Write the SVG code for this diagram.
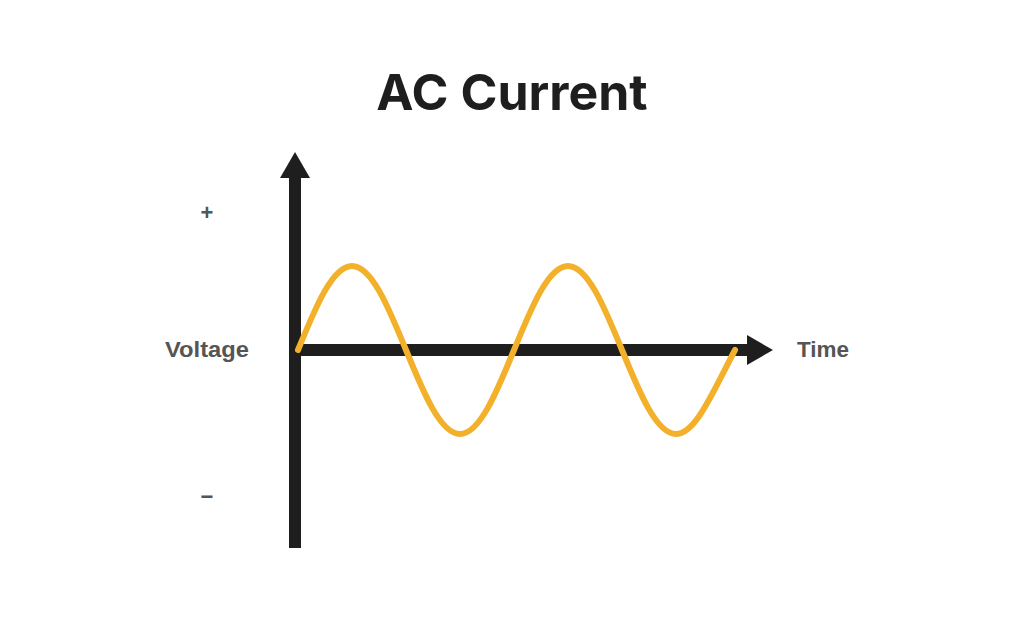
<svg xmlns="http://www.w3.org/2000/svg" width="1024" height="634" viewBox="0 0 1024 634">
<style>
.lbl{font-family:"Liberation Sans",Arial,sans-serif;font-weight:bold;fill:#555;font-size:22px}
.ax{stroke:#1e1e1e;stroke-width:12;fill:none}
</style>
<rect width="1024" height="634" fill="#fff"/>
<text x="512" y="110" text-anchor="middle" font-family="Inter, 'Liberation Sans', sans-serif" font-weight="bold" font-size="50" fill="#1e1e1e">AC Current</text>
<text class="lbl" x="207" y="220" text-anchor="middle" font-size="34">+</text>
<text class="lbl" x="207" y="504" text-anchor="middle" font-size="40">−</text>
<text class="lbl" x="165" y="357" textLength="84" lengthAdjust="spacingAndGlyphs">Voltage</text>
<text class="lbl" x="797" y="357" textLength="52" lengthAdjust="spacingAndGlyphs">Time</text>
<g id="axes">
<line class="ax" x1="295" y1="548" x2="295" y2="175"/>
<polygon points="295,152 280,178 310,178" fill="#1e1e1e"/>
<line class="ax" x1="295" y1="350" x2="750" y2="350"/>
<polygon points="773,350 747,335 747,365" fill="#1e1e1e"/>
</g>
<path d="M298,350 C315.6,307 332.5,266 352,266 C371.5,266 388.4,307 406,350 C423.6,393 440.5,434 460,434 C479.5,434 496.4,393 514,350 C531.6,307 548.5,266 568,266 C587.5,266 604.4,307 622,350 C639.6,393 656.5,434 676,434 C695.5,434 712.4,393 735,350" fill="none" stroke="#f3b12b" stroke-width="6" stroke-linecap="round"/>
</svg>
